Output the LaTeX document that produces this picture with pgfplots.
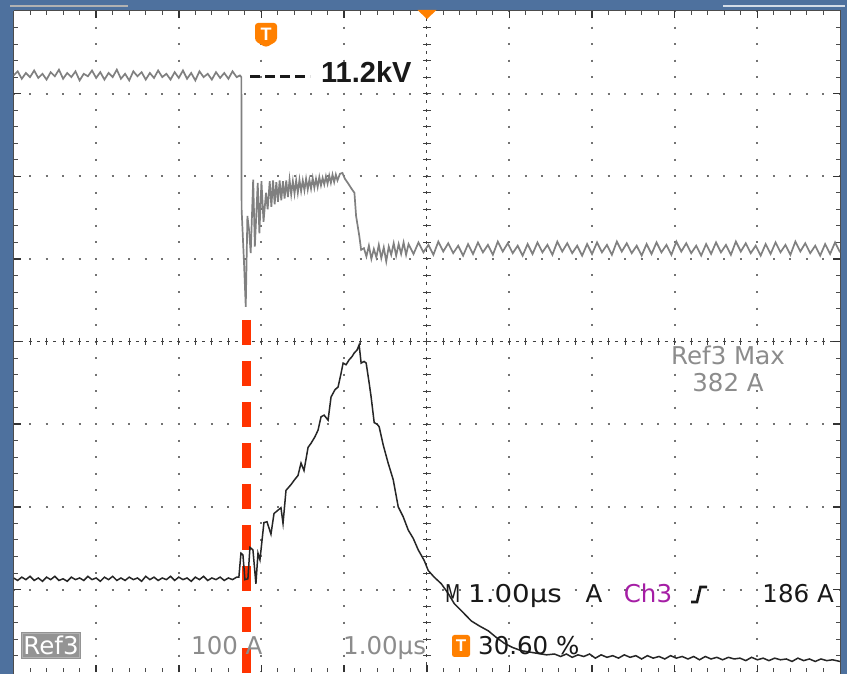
\documentclass[border=0pt]{standalone}
\usepackage{pgfplots}
\pgfplotsset{compat=1.18}
\usepackage{fontspec}
\setmainfont{DejaVu Sans}
\newfontfamily\arial{Liberation Sans}
\definecolor{scopeblue}{RGB}{78,113,158}
\definecolor{tekorange}{RGB}{255,128,0}
\definecolor{tekred}{RGB}{255,51,0}
\definecolor{chthree}{RGB}{165,30,165}
\definecolor{reftxt}{RGB}{140,140,140}
\begin{document}
\begin{tikzpicture}
\useasboundingbox (0,0) rectangle (847pt,674pt);
\fill[scopeblue] (0,0) rectangle (847pt,674pt);
\begin{scope}[x=1pt,y=-1pt,shift={(0,674pt)}]
  \fill[black!30] (10,5) rectangle (128,7.5);
  \fill[white!75!scopeblue] (723,5) rectangle (845,7.5);
  \fill[white] (13.5,11) rectangle (840,674);
  % major dotted grid
  \foreach \k in {1,2,3,4,6,7,8,9} {
    \draw[black!55, line width=2pt, dash pattern=on 2pt off 14.53pt, dash phase=1pt]
      ({13.5+\k*82.65},11) -- ({13.5+\k*82.65},672.2);
  }
  \foreach \k in {1,2,3,5,6,7} {
    \draw[black!55, line width=2pt, dash pattern=on 2pt off 14.53pt, dash phase=1pt]
      (13.5,{11+\k*82.65}) -- (840,{11+\k*82.65});
  }
  % centre lines
  \draw[black!75, line width=1pt, dash pattern=on 3pt off 5.265pt, dash phase=1.5pt] (426.75,11) -- (426.75,672.2);
  \draw[black!75, line width=1pt, dash pattern=on 3pt off 5.265pt, dash phase=1.5pt] (13.5,341.6) -- (840,341.6);
  \foreach \i in {1,...,49} {
    \draw[black!75, line width=1pt] ({13.5+\i*16.53},338) -- ({13.5+\i*16.53},345.2);
  }
  \foreach \i in {1,...,39} {
    \draw[black!75, line width=1pt] (423,{11+\i*16.53}) -- (430.5,{11+\i*16.53});
  }
  % border ticks
  \draw[black!70, line width=1pt] (13.5,11) -- (840,11) -- (840,674);
  \draw[black!70, line width=1pt] (13.5,674) -- (13.5,11);
  \foreach \i in {1,...,49} {
    \draw[black!70, line width=1pt] ({13.5+\i*16.53},11) -- ({13.5+\i*16.53},15);
    \draw[black!70, line width=1pt] ({13.5+\i*16.53},672.2) -- ({13.5+\i*16.53},668);
  }
  \foreach \i in {1,...,39} {
    \draw[black!70, line width=1pt] (13.5,{11+\i*16.53}) -- (17.5,{11+\i*16.53});
    \draw[black!70, line width=1pt] (840,{11+\i*16.53}) -- (836,{11+\i*16.53});
  }
  \foreach \k in {1,...,9} {
    \draw[black!80, line width=1.5pt] ({13.5+\k*82.65},11) -- ({13.5+\k*82.65},18);
    \draw[black!80, line width=1.5pt] ({13.5+\k*82.65},672.2) -- ({13.5+\k*82.65},665);
  }
  \foreach \k in {1,...,7} {
    \draw[black!80, line width=1.5pt] (13.5,{11+\k*82.65}) -- (20.5,{11+\k*82.65});
    \draw[black!80, line width=1.5pt] (840,{11+\k*82.65}) -- (833,{11+\k*82.65});
  }
  % red dashed trigger line
  \draw[tekred, line width=9pt, dash pattern=on 25.5pt off 15.5pt] (246.7,320) -- (246.7,676);
\end{scope}

\begin{axis}[at={(13.5pt,1.8pt)}, anchor=south west, scale only axis,
  width=826.5pt, height=661.2pt, xmin=0, xmax=10, ymin=0, ymax=8,
  hide axis, clip=true]
% upper trace (voltage)
\addplot[color=black!50, line width=1.7pt, no marks] coordinates {
(0.00,7.22)(0.05,7.27)(0.10,7.18)(0.15,7.25)(0.20,7.20)(0.25,7.28)(0.30,7.19)(0.35,7.24)
(0.40,7.17)(0.45,7.26)(0.50,7.21)(0.55,7.29)(0.60,7.18)(0.65,7.25)(0.70,7.20)(0.75,7.27)
(0.80,7.16)(0.85,7.24)(0.90,7.21)(0.95,7.28)(1.00,7.19)(1.05,7.26)(1.10,7.17)(1.15,7.25)
(1.20,7.20)(1.25,7.29)(1.30,7.18)(1.35,7.24)(1.40,7.16)(1.45,7.27)(1.50,7.21)(1.55,7.26)
(1.60,7.17)(1.65,7.25)(1.70,7.19)(1.75,7.28)(1.80,7.20)(1.85,7.24)(1.90,7.17)(1.95,7.26)
(2.00,7.19)(2.05,7.28)(2.10,7.18)(2.15,7.25)(2.20,7.16)(2.25,7.27)(2.30,7.20)(2.35,7.24)
(2.40,7.17)(2.45,7.26)(2.50,7.19)(2.55,7.25)(2.60,7.18)(2.65,7.27)(2.70,7.20)(2.74,7.22)
(2.757,7.20)(2.76,5.60)(2.79,4.93)(2.81,4.42)(2.83,5.52)(2.85,5.35)(2.87,5.07)(2.90,5.96)
(2.92,5.15)(2.955,5.92)(2.975,5.31)(3.00,5.94)(3.025,5.45)(3.055,5.80)(3.075,5.60)
(3.10,5.94)(3.12,5.63)(3.14,5.95)(3.16,5.66)(3.18,5.93)(3.20,5.69)(3.22,5.95)(3.24,5.71)
(3.26,5.94)(3.28,5.73)(3.30,5.95)(3.32,5.75)(3.34,5.96)(3.36,5.78)(3.38,5.94)(3.40,5.79)
(3.42,5.95)(3.44,5.80)(3.46,5.96)(3.48,5.82)(3.50,5.95)(3.52,5.83)(3.54,5.97)(3.56,5.84)
(3.58,5.96)(3.60,5.85)(3.62,5.98)(3.64,5.86)(3.66,5.97)(3.68,5.87)(3.70,5.99)(3.72,5.89)
(3.74,5.98)(3.76,5.90)(3.78,6.00)(3.80,5.91)(3.82,6.01)(3.84,5.92)(3.86,6.02)(3.88,5.93)
(3.90,6.02)(3.92,5.95)(3.95,6.03)(3.98,6.04)(4.01,5.97)(4.045,5.92)(4.09,5.85)(4.125,5.80)
(4.145,5.52)(4.185,5.27)(4.206,5.11)(4.24,5.13)(4.27,5.03)(4.30,5.16)(4.33,5.00)(4.36,5.12)
(4.39,5.02)(4.42,5.17)(4.45,5.01)(4.48,5.14)(4.51,4.97)(4.54,5.15)(4.57,5.05)(4.60,5.19)
(4.63,5.04)(4.66,5.18)(4.69,5.06)(4.72,5.20)(4.75,5.05)
(4.78,5.18)(4.84,5.06)(4.90,5.20)(4.96,5.08)(5.02,5.17)(5.08,5.05)(5.14,5.21)(5.20,5.09)
(5.26,5.19)(5.32,5.07)(5.38,5.16)(5.44,5.04)(5.50,5.18)(5.56,5.06)(5.62,5.20)(5.68,5.08)
(5.74,5.17)(5.80,5.05)(5.86,5.21)(5.92,5.09)(5.98,5.19)(6.04,5.07)(6.10,5.16)(6.16,5.04)
(6.22,5.18)(6.28,5.06)(6.34,5.20)(6.40,5.08)(6.46,5.17)(6.52,5.05)(6.58,5.21)(6.64,5.09)
(6.70,5.19)(6.76,5.07)(6.82,5.16)(6.88,5.04)(6.94,5.18)(7.00,5.06)(7.06,5.20)(7.12,5.08)
(7.18,5.17)(7.24,5.05)(7.30,5.21)(7.36,5.09)(7.42,5.19)(7.48,5.07)(7.54,5.16)(7.60,5.04)
(7.66,5.18)(7.72,5.06)(7.78,5.20)(7.84,5.08)(7.90,5.17)(7.96,5.05)(8.02,5.21)(8.08,5.09)
(8.14,5.19)(8.20,5.07)(8.26,5.16)(8.32,5.04)(8.38,5.18)(8.44,5.06)(8.50,5.20)(8.56,5.08)
(8.62,5.17)(8.68,5.05)(8.74,5.21)(8.80,5.09)(8.86,5.19)(8.92,5.07)(8.98,5.16)(9.04,5.04)
(9.10,5.18)(9.16,5.06)(9.22,5.20)(9.28,5.08)(9.34,5.17)(9.40,5.05)(9.46,5.21)(9.52,5.09)
(9.58,5.19)(9.64,5.07)(9.70,5.16)(9.76,5.04)(9.82,5.18)(9.88,5.06)(9.94,5.20)(10.00,5.08)
};
% lower trace (current)
\addplot[color=black!85, line width=1.5pt, no marks] coordinates {
(0.00,1.14)(0.05,1.11)(0.10,1.15)(0.15,1.12)(0.20,1.16)(0.25,1.11)(0.30,1.14)(0.35,1.10)
(0.40,1.15)(0.45,1.12)(0.50,1.16)(0.55,1.11)(0.60,1.13)(0.65,1.10)(0.70,1.15)(0.75,1.12)
(0.80,1.14)(0.85,1.11)(0.90,1.16)(0.95,1.12)(1.00,1.14)(1.05,1.10)(1.10,1.15)(1.15,1.12)
(1.20,1.16)(1.25,1.11)(1.30,1.14)(1.35,1.11)(1.40,1.15)(1.45,1.12)(1.50,1.14)(1.55,1.10)
(1.60,1.16)(1.65,1.12)(1.70,1.15)(1.75,1.11)(1.80,1.14)(1.85,1.12)(1.90,1.16)(1.95,1.11)
(2.00,1.15)(2.05,1.12)(2.10,1.14)(2.15,1.10)(2.20,1.15)(2.25,1.12)(2.30,1.16)(2.35,1.11)
(2.40,1.14)(2.45,1.12)(2.50,1.15)(2.55,1.11)(2.60,1.14)(2.65,1.12)(2.70,1.15)(2.727,1.15)
(2.752,1.44)(2.776,1.42)(2.80,1.12)(2.836,1.13)(2.861,1.51)(2.897,1.48)(2.933,1.07)
(2.958,1.44)(2.982,1.36)(3.03,1.81)(3.067,1.82)(3.115,1.67)(3.152,1.92)(3.20,1.96)
(3.236,1.99)(3.261,1.80)(3.297,2.20)(3.358,2.27)(3.394,2.32)(3.442,2.38)(3.479,2.53)
(3.515,2.44)(3.564,2.72)(3.60,2.77)(3.648,2.85)(3.685,2.93)(3.721,3.09)(3.758,3.11)
(3.806,3.05)(3.842,3.33)(3.891,3.42)(3.927,3.45)(3.964,3.62)(3.988,3.74)(4.024,3.72)
(4.061,3.78)(4.097,3.82)(4.121,3.86)(4.158,3.90)(4.182,3.96)(4.206,3.74)(4.242,3.76)
(4.267,3.74)(4.303,3.50)(4.327,3.33)(4.364,3.02)(4.40,3.00)(4.424,2.97)(4.473,2.75)
(4.533,2.53)(4.594,2.33)(4.655,2.00)(4.715,1.88)(4.776,1.72)(4.836,1.62)(4.897,1.48)
(4.97,1.35)(5.018,1.23)(5.09,1.15)(5.176,1.07)(5.261,0.95)(5.333,0.83)(5.442,0.72)
(5.539,0.62)(5.636,0.56)(5.745,0.50)(5.842,0.42)(5.939,0.35)(6.036,0.30)(6.145,0.26)
(6.327,0.23)(6.45,0.21)(6.545,0.22)
(6.62,0.19)(6.69,0.22)(6.76,0.18)(6.83,0.21)(6.90,0.19)(6.97,0.22)(7.04,0.17)(7.11,0.21)
(7.18,0.18)(7.25,0.20)(7.32,0.17)(7.39,0.21)(7.46,0.18)(7.53,0.20)(7.60,0.16)(7.67,0.20)
(7.74,0.17)(7.81,0.19)(7.88,0.16)(7.95,0.20)(8.02,0.17)(8.09,0.19)(8.16,0.16)(8.23,0.19)
(8.30,0.15)(8.37,0.19)(8.44,0.16)(8.51,0.18)(8.58,0.15)(8.65,0.18)(8.72,0.16)(8.79,0.17)
(8.86,0.14)(8.93,0.18)(9.00,0.15)(9.07,0.17)(9.14,0.14)(9.21,0.17)(9.28,0.15)(9.35,0.16)
(9.42,0.13)(9.49,0.17)(9.56,0.14)(9.63,0.16)(9.70,0.13)(9.77,0.16)(9.84,0.14)(9.91,0.15)
(10.00,0.13)
};
\end{axis}

\begin{scope}[x=1pt,y=-1pt,shift={(0,674pt)}]
  % trigger markers
  \fill[tekorange] (417.5,10) -- (436.5,10) -- (427,19) -- cycle;
  \fill[tekorange, rounded corners=3pt] (255,23) -- (277,23) -- (277,41) -- (266,47.5) -- (255,41) -- cycle;
  \node[white, inner sep=0, font=\arial\bfseries\fontsize{18}{18}\selectfont] at (266,34) {T};
  % 11.2kV level
  \draw[black!90, line width=3pt, dash pattern=on 10pt off 5pt] (250,76.5) -- (310,76.5);
  \node[anchor=base west, inner sep=0, font=\arial\bfseries\fontsize{29}{30}\selectfont, black!90] at (321,83) {11.2kV};
  % Ref3 Max
  \node[anchor=base, inner sep=0, reftxt, font=\fontsize{24.5}{26}\selectfont] at (728,365) {Ref3 Max};
  \node[anchor=base, inner sep=0, reftxt, font=\fontsize{24.5}{26}\selectfont] at (728,392) {382 A};
  % bottom readouts
  \fill[black!42] (21,632) rectangle (81,659);
  \draw[white!70!black, line width=0.8pt] (22.5,633.5) rectangle (79.5,657.5);
  \node[anchor=base, inner sep=0, white, font=\fontsize{24.5}{26}\selectfont] at (51,655) {Ref3};
  \node[anchor=base west, inner sep=0, reftxt, font=\fontsize{24.5}{26}\selectfont] at (191,655) {100 A};
  \node[anchor=base west, inner sep=0, reftxt, font=\fontsize{24.5}{26}\selectfont] at (343,655) {1.00µs};
  \fill[tekorange, rounded corners=2.5pt] (452,635) rectangle (470,657);
  \node[white, inner sep=0, font=\arial\bfseries\fontsize{17}{17}\selectfont] at (461,646) {T};
  \node[anchor=base west, inner sep=0, black!90, font=\fontsize{24.5}{26}\selectfont] at (478,655) {30.60 \%};
  \node[anchor=base west, inner sep=0, black!90, font=\fontsize{24.5}{26}\selectfont] at (445,603) {\scalebox{0.72}[1]{M}};
  \node[anchor=base west, inner sep=0, black!90, font=\fontsize{24.5}{26}\selectfont] at (468,603) {\scalebox{1.13}[1]{1.00µs}};
  \node[anchor=base, inner sep=0, black!90, font=\fontsize{24.5}{26}\selectfont] at (594,603) {A};
  \node[anchor=base, inner sep=0, chthree, font=\fontsize{24.5}{26}\selectfont] at (648,603) {Ch3};
  \draw[black!90, line width=2.6pt] (691,602) -- (697,602) -- (700.5,587) -- (707,587);
  \node[anchor=base east, inner sep=0, black!90, font=\fontsize{24.5}{26}\selectfont] at (834,603) {186 A};
\end{scope}
\end{tikzpicture}
\end{document}
